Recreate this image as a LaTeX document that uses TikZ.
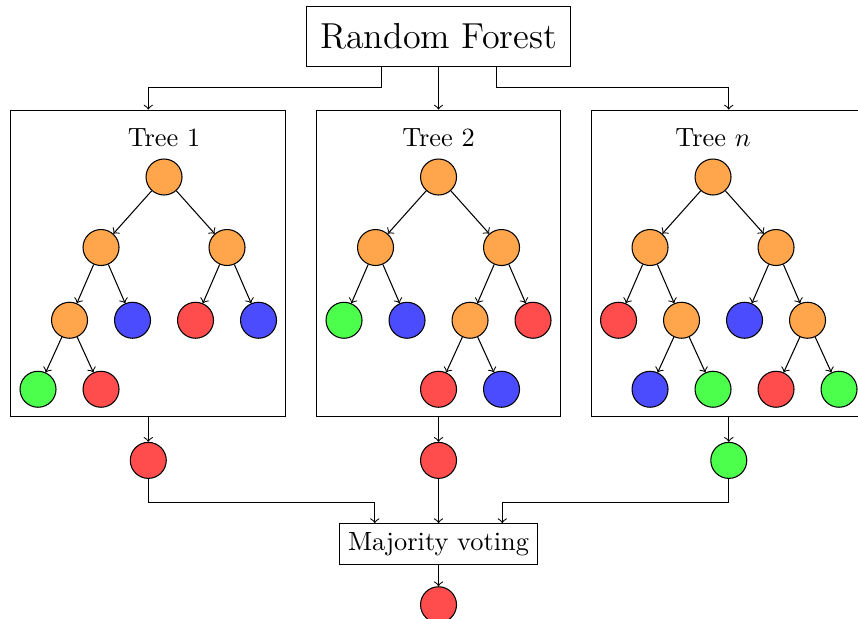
\documentclass[tikz,border=0pt]{standalone}
\usepackage{tikz}
\usetikzlibrary{positioning, fit}

\begin{document}
\begin{tikzpicture}[
		leaf/.style={circle, draw, minimum size=0.48cm, inner sep=0pt, on grid},
		split/.style={leaf, fill=orange!70},
		rleaf/.style={leaf, fill=red!70},
		bleaf/.style={leaf, fill=blue!70},
		gleaf/.style={leaf, fill=green!70},
		box/.style={rectangle, draw}
		]
		\useasboundingbox (-5.847, 0.49) rectangle (5.593, -7.76);
		
		\node (rf) at (0, 0) [box, font=\fontsize{13.7}{16}\selectfont, inner xsep=5pt, inner ysep=6.5pt] {Random Forest};
		
		% tree 1
		\node (t1) at (-3.66, -1.87) [split] {};
		\node (t1lab) [on grid, above=0.53cm of t1] {Tree 1};
		\node (t1a) [split, below left=0.94cm and 0.84cm of t1] {};
		\node (t1b) [split, below right=0.94cm and 0.84cm of t1] {};
		\node (t1aa) [split, below left=0.97cm and 0.42cm of t1a] {};
		\node (t1ab) [bleaf, below right=0.97cm and 0.42cm of t1a] {};
		\node (t1ba) [rleaf, below left=0.97cm and 0.42cm of t1b] {};
		\node (t1bb) [bleaf, below right=0.97cm and 0.42cm of t1b] {};
		\node (t1aaa) [gleaf, below left=0.92cm and 0.42cm of t1aa] {};
		\node (t1aab) [rleaf, below right=0.92cm and 0.42cm of t1aa] {};
		\node (box1) [draw, fit={(t1lab) (t1aaa) (t1bb)}] {};
		
		\draw [->] (t1) -- (t1a);
		\draw [->] (t1) -- (t1b);
		\draw [->] (t1a) -- (t1aa);
		\draw [->] (t1a) -- (t1ab);
		\draw [->] (t1b) -- (t1ba);
		\draw [->] (t1b) -- (t1bb);
		\draw [->] (t1aa) -- (t1aaa);
		\draw [->] (t1aa) -- (t1aab);
		
		% tree 2
		\node (t2) at (0, -1.87) [split] {};
		\node (t2lab) [on grid, above=0.53cm of t2] {Tree 2};
		\node (t2a) [split, below left=0.94cm and 0.84cm of t2] {};
		\node (t2b) [split, below right=0.94cm and 0.84cm of t2] {};
		\node (t2aa) [gleaf, below left=0.97cm and 0.42cm of t2a] {};
		\node (t2ab) [bleaf, below right=0.97cm and 0.42cm of t2a] {};
		\node (t2ba) [split, below left=0.97cm and 0.42cm of t2b] {};
		\node (t2bb) [rleaf, below right=0.97cm and 0.42cm of t2b] {};
		\node (t2baa) [rleaf, below left=0.92cm and 0.42cm of t2ba] {};
		\node (t2bab) [bleaf, below right=0.92cm and 0.42cm of t2ba] {};
		\node (box2) [draw, fit={(t2lab) (t2aa) (t2bb) (t2baa)}] {};
		
		\draw [->] (t2) -- (t2a);
		\draw [->] (t2) -- (t2b);
		\draw [->] (t2a) -- (t2aa);
		\draw [->] (t2a) -- (t2ab);
		\draw [->] (t2b) -- (t2ba);
		\draw [->] (t2b) -- (t2bb);
		\draw [->] (t2ba) -- (t2baa);
		\draw [->] (t2ba) -- (t2bab);
		
		% tree n
		\node (tn) at (3.66, -1.87) [split] {};
		\node (tnlab) [on grid, above=0.53cm of tn] {Tree $n$};
		\node (tna) [split, below left=0.94cm and 0.84cm of tn] {};
		\node (tnb) [split, below right=0.94cm and 0.84cm of tn] {};
		\node (tnaa) [rleaf, below left=0.97cm and 0.42cm of tna] {};
		\node (tnab) [split, below right=0.97cm and 0.42cm of tna] {};
		\node (tnba) [bleaf, below left=0.97cm and 0.42cm of tnb] {};
		\node (tnbb) [split, below right=0.97cm and 0.42cm of tnb] {};
		\node (tnaba) [bleaf, below left=0.92cm and 0.42cm of tnab] {};
		\node (tnabb) [gleaf, below right=0.92cm and 0.42cm of tnab] {};
		\node (tnbba) [rleaf, below left=0.92cm and 0.42cm of tnbb] {};
		\node (tnbbb) [gleaf, below right=0.92cm and 0.42cm of tnbb] {};
		\node (boxn) [draw, fit={(tnlab) (tnaa) (tnbbb)}] {};
		
		\draw [->] (tn) -- (tna);
		\draw [->] (tn) -- (tnb);
		\draw [->] (tna) -- (tnaa);
		\draw [->] (tna) -- (tnab);
		\draw [->] (tnb) -- (tnba);
		\draw [->] (tnb) -- (tnbb);
		\draw [->] (tnab) -- (tnaba);
		\draw [->] (tnab) -- (tnabb);
		\draw [->] (tnbb) -- (tnbba);
		\draw [->] (tnbb) -- (tnbbb);
		
		\draw [->] ([xshift=-0.76cm]rf.south) -- ++(0, -0.27) -| (box1.north);
		\draw [->] (rf) -- (box2);
		\draw [->] ([xshift=0.77cm]rf.south) -- ++(0, -0.27) -| (boxn.north);
		
		% votes
		\node (o1) [rleaf, on grid=false, below=0.33cm of box1] {};
		\node (o2) [rleaf, on grid=false, below=0.33cm of box2] {};
		\node (on) [gleaf, on grid=false, below=0.33cm of boxn] {};
		\node (vote) [box, below=0.59cm of o2] {Majority voting};
		\node (final) [rleaf, on grid=false, below=0.28cm of vote] {};
		
		\draw [->] (box1) -- (o1);
		\draw [->] (box2) -- (o2);
		\draw [->] (boxn) -- (on);
		\draw [->] (o1.south) -- ++(0, -0.32) -| ([xshift=-0.85cm]vote.north);
		\draw [->] (o2) -- (vote);
		\draw [->] (on.south) -- ++(0, -0.32) -| ([xshift=0.85cm]vote.north);
		\draw [->] (vote) -- (final);
	\end{tikzpicture}
\end{document}
